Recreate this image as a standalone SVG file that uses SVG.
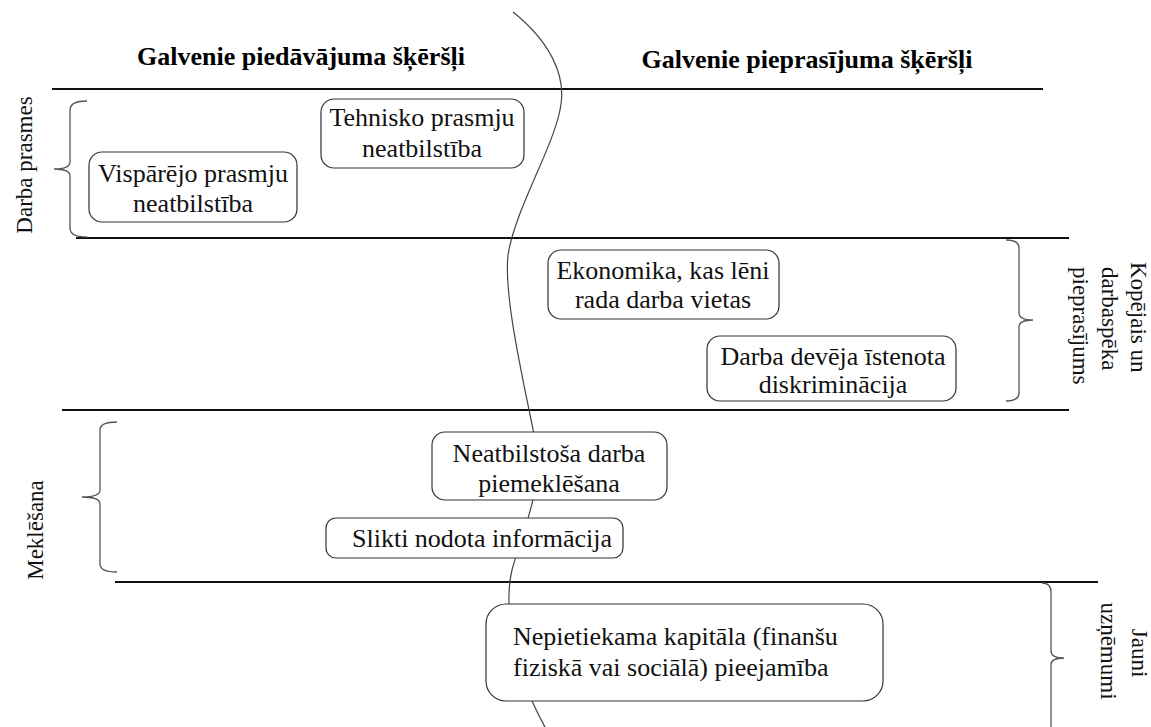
<svg xmlns="http://www.w3.org/2000/svg" width="1151" height="727" viewBox="0 0 1151 727" font-family="Times New Roman, Liberation Serif, Tinos, serif">
<rect width="1151" height="727" fill="#fff"/>
<g id="titles" font-weight="bold" font-size="26" fill="#000">
<text font-family="Times New Roman, Liberation Serif, serif" x="301" y="65" text-anchor="middle">Galvenie piedāvājuma šķēršļi</text>
<text font-family="Times New Roman, Liberation Serif, serif" x="807" y="68" text-anchor="middle">Galvenie pieprasījuma šķēršļi</text>
</g>
<g id="connectors" fill="none">
<g stroke="#111" stroke-width="2">
<line x1="52" y1="89" x2="1043" y2="89"/>
<line x1="76" y1="238" x2="1069" y2="238"/>
<line x1="62" y1="410" x2="1069" y2="410"/>
<line x1="115" y1="582" x2="1098" y2="582"/>
</g>
<path stroke="#444" stroke-width="1.2" d="M 513 12 C 548 40, 568 75, 560 110 C 552 150, 515 210, 508 255 C 503 300, 528 400, 537 450 C 542 490, 520 540, 512 570 C 505 600, 508 660, 545 727"/>
<g stroke="#555" stroke-width="1.3">
<path d="M 87 101 Q 70 101 70 110 L 70 162 Q 70 169 54 169 Q 70 169 70 176 L 70 228 Q 70 237 87 237"/>
<path d="M 1006 240 Q 1019 240 1019 248 L 1019 313 Q 1019 320 1033 320 Q 1019 320 1019 327 L 1019 393 Q 1019 401 1006 401"/>
<path d="M 117 422 Q 100 422 100 430 L 100 490 Q 100 497 82 497 Q 100 497 100 504 L 100 564 Q 100 572 117 572"/>
<path d="M 1042 583 Q 1051 583 1051 592 L 1051 651 Q 1051 658 1064 658 Q 1051 658 1051 665 L 1051 727"/>
</g>
</g>
<g id="side-labels" font-size="23" fill="#111">
<text font-family="Times New Roman, Liberation Serif, serif" transform="translate(32,165) rotate(-90)" text-anchor="middle">Darba prasmes</text>
<text font-family="Times New Roman, Liberation Serif, serif" transform="translate(43,530) rotate(-90)" text-anchor="middle">Meklēšana</text>
<text font-family="Times New Roman, Liberation Serif, serif" transform="translate(1131,262) rotate(90)">Kopējais un</text>
<text font-family="Times New Roman, Liberation Serif, serif" transform="translate(1102,267) rotate(90)">darbaspēka</text>
<text font-family="Times New Roman, Liberation Serif, serif" transform="translate(1073,267) rotate(90)">pieprasījums</text>
<text font-family="Times New Roman, Liberation Serif, serif" transform="translate(1132,653) rotate(90)" text-anchor="middle">Jauni</text>
<text font-family="Times New Roman, Liberation Serif, serif" transform="translate(1101,651) rotate(90)" text-anchor="middle">uzņēmumi</text>
</g>
<g id="node-tehnisko" font-size="26" fill="#111">
<rect fill="#fff" stroke="#333" stroke-width="1.2" x="321" y="99" width="203" height="69" rx="13"/>
<text font-family="Times New Roman, Liberation Serif, serif" x="422" y="126" text-anchor="middle">Tehnisko prasmju</text>
<text font-family="Times New Roman, Liberation Serif, serif" x="422" y="157" text-anchor="middle">neatbilstība</text>
</g>
<g id="node-visparejo" font-size="26" fill="#111">
<rect fill="#fff" stroke="#333" stroke-width="1.2" x="89" y="152" width="208" height="70" rx="13"/>
<text font-family="Times New Roman, Liberation Serif, serif" x="193" y="182" text-anchor="middle">Vispārējo prasmju</text>
<text font-family="Times New Roman, Liberation Serif, serif" x="193" y="212" text-anchor="middle">neatbilstība</text>
</g>
<g id="node-ekonomika" font-size="26" fill="#111">
<rect fill="#fff" stroke="#333" stroke-width="1.2" x="548" y="250" width="231" height="69" rx="13"/>
<text font-family="Times New Roman, Liberation Serif, serif" x="663" y="279" text-anchor="middle">Ekonomika, kas lēni</text>
<text font-family="Times New Roman, Liberation Serif, serif" x="663" y="308" text-anchor="middle">rada darba vietas</text>
</g>
<g id="node-diskriminacija" font-size="26" fill="#111">
<rect fill="#fff" stroke="#333" stroke-width="1.2" x="707" y="336" width="249" height="65" rx="13"/>
<text font-family="Times New Roman, Liberation Serif, serif" x="833" y="365" text-anchor="middle">Darba devēja īstenota</text>
<text font-family="Times New Roman, Liberation Serif, serif" x="833" y="393" text-anchor="middle">diskriminācija</text>
</g>
<g id="node-piemeklesana" font-size="26" fill="#111">
<rect fill="#fff" stroke="#333" stroke-width="1.2" x="432" y="432" width="235" height="68" rx="13"/>
<text font-family="Times New Roman, Liberation Serif, serif" x="549" y="462" text-anchor="middle">Neatbilstoša darba</text>
<text font-family="Times New Roman, Liberation Serif, serif" x="549" y="492" text-anchor="middle">piemeklēšana</text>
</g>
<g id="node-informacija" font-size="26" fill="#111">
<rect fill="#fff" stroke="#333" stroke-width="1.2" x="326" y="518" width="297" height="40" rx="10"/>
<text font-family="Times New Roman, Liberation Serif, serif" x="352" y="547">Slikti nodota informācija</text>
</g>
<g id="node-kapitals" font-size="26" fill="#111">
<rect fill="#fff" stroke="#333" stroke-width="1.2" x="486" y="604" width="397" height="97" rx="20"/>
<text font-family="Times New Roman, Liberation Serif, serif" x="513" y="645">Nepietiekama kapitāla (finanšu</text>
<text font-family="Times New Roman, Liberation Serif, serif" x="513" y="676">fiziskā vai sociālā) pieejamība</text>
</g>
</svg>
